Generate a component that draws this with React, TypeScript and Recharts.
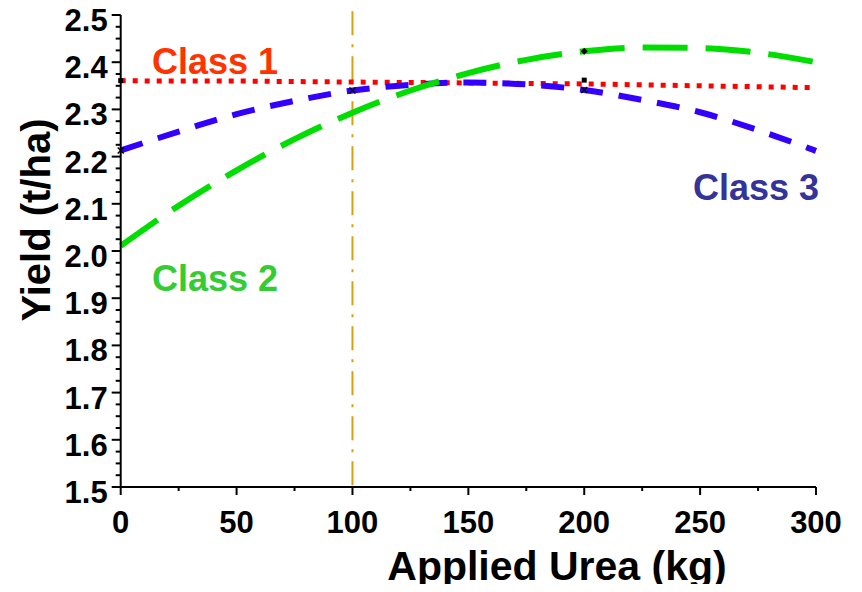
import React from 'react';
import { LineChart, Line, XAxis, YAxis, ReferenceLine, ReferenceDot } from 'recharts';

// applied urea (kg) and predicted yield (t/ha) for each class
const urea = [0, 25, 50, 75, 100, 125, 150, 175, 200, 225, 250, 275, 300];
const class1 = [2.361, 2.360, 2.360, 2.359, 2.358, 2.357, 2.356, 2.355, 2.354, 2.352, 2.350, 2.348, 2.346];
const class2 = [2.011, 2.096, 2.171, 2.237, 2.293, 2.340, 2.377, 2.405, 2.423, 2.431, 2.430, 2.420, 2.400];
const class3 = [2.213, 2.253, 2.290, 2.318, 2.340, 2.352, 2.357, 2.353, 2.341, 2.320, 2.294, 2.256, 2.212];

const xTicks = [0, 25, 50, 75, 100, 125, 150, 175, 200, 225, 250, 275, 300];
const yMajor = [1.5, 1.6, 1.7, 1.8, 1.9, 2.0, 2.1, 2.2, 2.3, 2.4, 2.5];

// small black markers sitting on the curves
const markers = [
  { x: 0, y: 2.361, kind: 'square' },
  { x: 0, y: 2.213, kind: 'cross' },
  { x: 100, y: 2.340, kind: 'cross' },
  { x: 200, y: 2.423, kind: 'diamond' },
  { x: 200, y: 2.362, kind: 'square' },
  { x: 200, y: 2.341, kind: 'cross' },
];

const data = urea.map((u, i) => ({ urea: u, c1: class1[i], c2: class2[i], c3: class3[i] }));
const yTicks: number[] = [];
yMajor.forEach((v, i) => {
  yTicks.push(v);
  if (i < yMajor.length - 1) [0.025, 0.05, 0.075].forEach((d) => yTicks.push(+(v + d).toFixed(3)));
});

const FONT = '"Liberation Sans", Arial, Helvetica, sans-serif';

function YTick(props: any) {
  const { x, y, payload } = props;
  const v = payload.value;
  const major = Math.abs(v * 10 - Math.round(v * 10)) < 1e-6;
  return (
    <g>
      <line x1={x - (major ? 9 : 5)} x2={x} y1={y} y2={y} stroke="#000" strokeWidth={2} />
      {major && (
        <text x={x - 13} y={y + 16} textAnchor="end" fontFamily={FONT} fontWeight="bold" fontSize={31} fill="#000">
          {v.toFixed(1)}
        </text>
      )}
    </g>
  );
}

function XTick(props: any) {
  const { x, y, payload } = props;
  const v = payload.value;
  const major = v % 50 === 0;
  return (
    <g>
      <line x1={x} x2={x} y1={y} y2={y + (major ? 8 : 4)} stroke="#000" strokeWidth={2} />
      {major && (
        <text x={x} y={y + 46} textAnchor="middle" fontFamily={FONT} fontWeight="bold" fontSize={31} fill="#000">
          {v}
        </text>
      )}
    </g>
  );
}

function Marker(props: any) {
  const { cx, cy, kind } = props;
  if (kind === 'square') return <rect x={cx - 2.5} y={cy - 2.5} width={5} height={5} fill="#000" />;
  if (kind === 'diamond') return <polygon points={`${cx},${cy - 3.5} ${cx + 3.5},${cy} ${cx},${cy + 3.5} ${cx - 3.5},${cy}`} fill="#000" />;
  return (
    <g stroke="#000" strokeWidth={1.5}>
      <line x1={cx - 3} y1={cy - 3} x2={cx + 3} y2={cy + 3} />
      <line x1={cx - 3} y1={cy + 3} x2={cx + 3} y2={cy - 3} />
    </g>
  );
}

export default function App() {
  return (
    <div style={{ margin: -8 }}>
      <LineChart width={862} height={592} data={data} margin={{ top: 15, right: 46, left: 0, bottom: 0 }}>
        <XAxis
          dataKey="urea"
          type="number"
          domain={[0, 300]}
          ticks={xTicks}
          tick={<XTick />}
          tickLine={false}
          tickSize={0}
          tickMargin={0}
          height={105}
          axisLine={{ stroke: '#000', strokeWidth: 2 }}
        />
        <XAxis xAxisId="top" orientation="top" type="number" domain={[0, 300]} tick={false} tickLine={false} height={0} axisLine={{ stroke: '#000', strokeWidth: 2 }} />
        <YAxis
          type="number"
          domain={[1.5, 2.5]}
          ticks={yTicks}
          tick={<YTick />}
          tickLine={false}
          tickSize={0}
          tickMargin={0}
          width={120.7}
          interval={0}
          axisLine={{ stroke: '#000', strokeWidth: 2 }}
        />
        <YAxis yAxisId="right" orientation="right" type="number" domain={[1.5, 2.5]} tick={false} tickLine={false} width={0} axisLine={{ stroke: '#000', strokeWidth: 2 }} />

        <ReferenceLine
          segment={[{ x: 100, y: 2.508 }, { x: 100, y: 1.503 }]}
          ifOverflow="visible"
          stroke="#d9a00e"
          strokeWidth={2}
          strokeDasharray="24 9 3 9"
        />

        <Line dataKey="c1" type="monotone" stroke="#ff0000" strokeWidth={5} strokeDasharray="5 7" dot={false} isAnimationActive={false} />
        <Line dataKey="c3" type="monotone" stroke="#3300ff" strokeWidth={6} strokeDasharray="23 16" dot={false} isAnimationActive={false} />
        <Line dataKey="c2" type="monotone" stroke="#00dd00" strokeWidth={6} strokeDasharray="45 18" dot={false} isAnimationActive={false} />

        {markers.map((m, i) => (
          <ReferenceDot key={i} x={m.x} y={m.y} ifOverflow="visible" shape={(p: any) => <Marker {...p} kind={m.kind} />} />
        ))}

        <text x={152} y={74} fontFamily={FONT} fontWeight="bold" fontSize={36} fill="#ff3300">Class 1</text>
        <text x={152} y={291} fontFamily={FONT} fontWeight="bold" fontSize={36} fill="#33cc33">Class 2</text>
        <text x={693} y={200} fontFamily={FONT} fontWeight="bold" fontSize={36} fill="#333399">Class 3</text>

        <text x={557} y={580} textAnchor="middle" fontFamily={FONT} fontWeight="bold" fontSize={41} fill="#000">Applied Urea (kg)</text>
        <text x={0} y={0} transform="translate(50 220) rotate(-90)" textAnchor="middle" fontFamily={FONT} fontWeight="bold" fontSize={40} fill="#000">Yield (t/ha)</text>
      </LineChart>
    </div>
  );
}
